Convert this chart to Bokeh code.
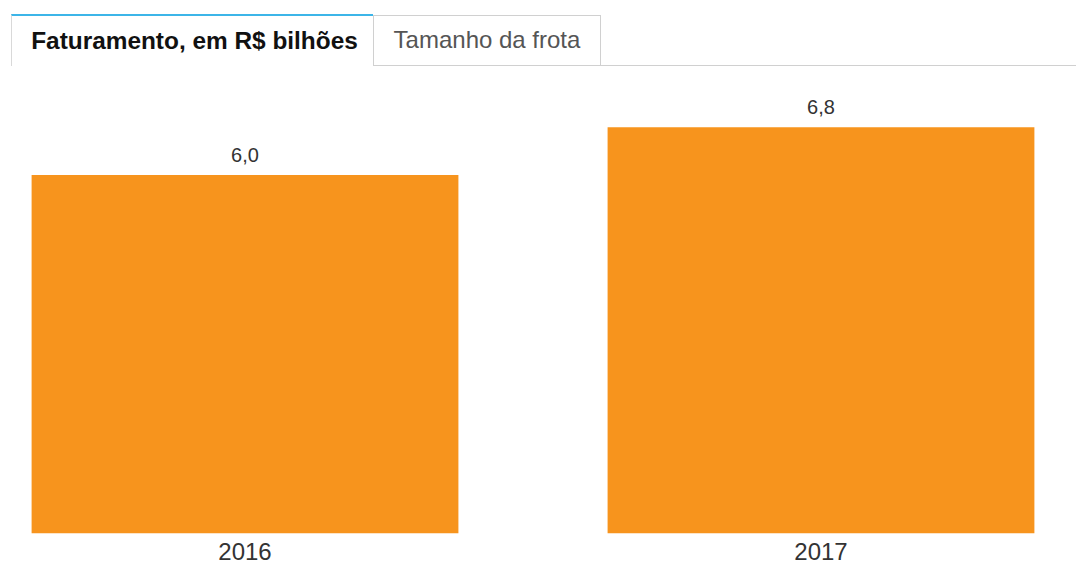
from bokeh.plotting import figure
from bokeh.models import ColumnDataSource, Range1d, Div
from bokeh.layouts import column
from bokeh.core.properties import value
from bokeh.embed import file_html
from bokeh.resources import INLINE

# ---- data ----
years = ["2016", "2017"]
revenue = [6.0, 6.8]          # Faturamento, em R$ bilhões
tab_labels = ["Faturamento, em R$ bilhões", "Tamanho da frota"]

positions = list(range(len(years)))
labels = [f"{v:.1f}".replace(".", ",") for v in revenue]
source = ColumnDataSource(dict(x=positions, top=revenue, label=labels, year=years))

FONT = "'Liberation Sans', Arial, Helvetica, sans-serif"
W = 1076

# ---- tabs (HTML header) ----
tabs_html = f"""
<div style="position:relative;width:{W}px;height:66px;font-family:{FONT};">
  <div style="position:absolute;left:11px;top:14px;width:362px;height:52px;box-sizing:border-box;
              border-top:2px solid #3cb5e8;border-left:1px solid #d9d9d9;background:#ffffff;
              display:flex;align-items:center;justify-content:center;padding-left:4px;
              font-size:24.4px;font-weight:bold;color:#111111;white-space:nowrap;">{tab_labels[0]}</div>
  <div style="position:absolute;left:373px;top:15px;width:228px;height:51px;box-sizing:border-box;
              border:1px solid #d0d0d0;background:#ffffff;
              display:flex;align-items:center;justify-content:center;
              font-size:24px;color:#555555;white-space:nowrap;">{tab_labels[1]}</div>
  <div style="position:absolute;left:600px;top:65px;width:{W - 600}px;height:1px;background:#d0d0d0;"></div>
</div>
"""
header = Div(text=tabs_html, width=W, height=66, margin=(0, 0, 0, 0))

# ---- chart ----
p = figure(width=W, height=500, output_backend="svg", toolbar_location=None,
           x_range=Range1d(-0.4245, 1.4436), y_range=Range1d(-0.558, 7.817),
           x_axis_location=None, y_axis_location=None, min_border=0,
           tools="")
p.outline_line_color = None
p.grid.visible = False
p.background_fill_color = "#ffffff"
p.border_fill_color = "#ffffff"

p.vbar(x="x", top="top", bottom=0, width=0.741, source=source,
       fill_color="#F7941D", line_color=None)

p.text(x="x", y="top", text="label", source=source,
       text_font=value("Liberation Sans"), text_font_size=value("20px"),
       text_color="#333333", text_align="center", text_baseline="alphabetic",
       y_offset=-20)

p.text(x="x", y=0, text="year", source=source,
       text_font=value("Liberation Sans"), text_font_size=value("24px"),
       text_color="#333333", text_align="center", text_baseline="alphabetic",
       y_offset=18)

layout = column(header, p, spacing=0, margin=(0, 0, 0, 0))
open("out.html", "w").write(file_html(layout, INLINE))
